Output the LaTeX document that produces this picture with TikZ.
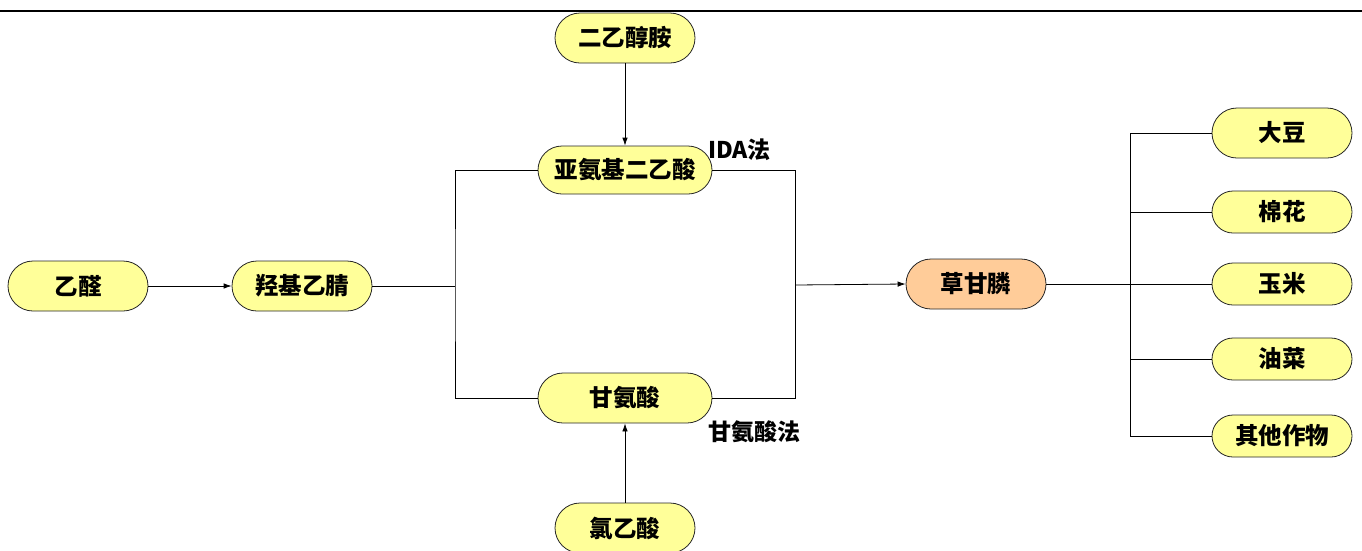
\documentclass[tikz,border=0pt]{standalone}
\usepackage{fontspec}
\setmainfont{Noto Sans CJK SC}
\usetikzlibrary{arrows.meta}
\definecolor{nodeyellow}{HTML}{FFFF99}
\definecolor{nodeorange}{HTML}{FFCC99}
\tikzset{
  pill/.style={draw=black!85, line width=0.8pt, fill=nodeyellow, rounded corners=#1, inner sep=0pt, font=\fontsize{23.5}{26}\selectfont\bfseries},
  pill/.default=25pt,
  conn/.style={draw=black, line width=0.8pt},
  arr/.style={conn, -{Latex[length=8pt,width=5.5pt]}},
  lbl/.style={font=\fontsize{23}{26}\selectfont\bfseries, inner sep=0pt}
}
\begin{document}
\begin{tikzpicture}[x=1pt,y=-1pt]
\useasboundingbox (0,0) rectangle (1362,550);
\draw[line width=2.2pt] (0,11) -- (1362,11);
% nodes
\node[pill, minimum width=140pt, minimum height=50pt] (yq) at (78,286) {乙醛};
\node[pill, minimum width=140pt, minimum height=50pt] (hj) at (302,286) {羟基乙腈};
\node[pill, minimum width=140pt, minimum height=50pt] (dea) at (625,38) {二乙醇胺};
\node[pill=24pt, minimum width=174pt, minimum height=48pt] (ida) at (625,170) {亚氨基二乙酸};
\node[pill, minimum width=174pt, minimum height=50pt] (gly) at (625,398) {甘氨酸};
\node[pill, minimum width=140pt, minimum height=50pt] (cla) at (625,528) {氯乙酸};
\node[pill, fill=nodeorange, minimum width=140pt, minimum height=50pt] (cgl) at (976,284) {草甘膦};
\node[pill, minimum width=140pt, minimum height=50pt] (dd) at (1282,133) {大豆};
\node[pill=21pt, minimum width=140pt, minimum height=42pt] (mh) at (1282,212) {棉花};
\node[pill=21pt, minimum width=140pt, minimum height=42pt] (ym) at (1282,284) {玉米};
\node[pill=21pt, minimum width=140pt, minimum height=42pt] (yc) at (1282,359) {油菜};
\node[pill=21pt, minimum width=140pt, minimum height=42pt] (qt) at (1282,436) {其他作物};
% labels
\node[lbl, anchor=west] (lida) at (708,150) {IDA法};
\node[lbl, anchor=west] (lgly) at (708,432) {甘氨酸法};
% junctions
\coordinate (jL) at (455,286);
\coordinate (jR) at (795,285);
\coordinate (jC) at (1130,284);
% connectors
\draw[arr] (yq) -- (hj);
\draw[arr] (dea) -- (ida);
\draw[arr] (cla) -- (gly);
\draw[conn] (hj.east) -- (jL);
\draw[conn] (ida.west) -| (jL) |- (gly.west);
\draw[conn] (ida.east) -| (jR) |- (gly.east);
\draw[arr] (jR) -- (cgl.west);
\draw[conn] (cgl.east) -- (jC);
\draw[conn] (jC) |- (dd.west);
\draw[conn] (jC) |- (mh.west);
\draw[conn] (jC) -- (ym.west);
\draw[conn] (jC) |- (yc.west);
\draw[conn] (jC) |- (qt.west);
\end{tikzpicture}
\end{document}
